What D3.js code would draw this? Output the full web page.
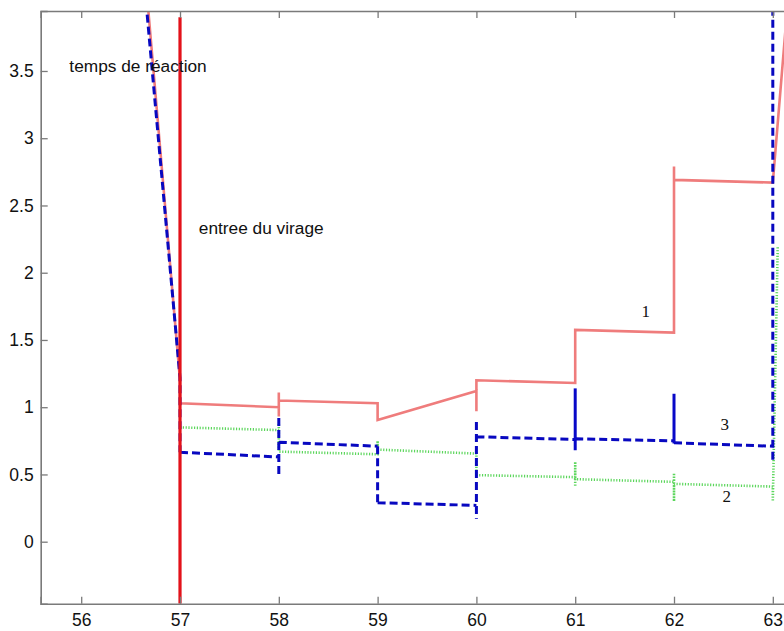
<!DOCTYPE html>
<html><head><meta charset="utf-8">
<script src="https://cdn.jsdelivr.net/npm/d3@7"></script>
<style>
html,body{margin:0;padding:0;background:#fff;}
svg{display:block;}
</style></head>
<body>
<svg id="chart" width="784" height="631"></svg>
<script>
// ---- data ----
const xTicks = [56, 57, 58, 59, 60, 61, 62, 63];
const yTicks = [0, 0.5, 1, 1.5, 2, 2.5, 3, 3.5];
const yTickLabels = ["0", "0.5", "1", "1.5", "2", "2.5", "3", "3.5"];

// series 1 (salmon, solid)
const s1x = [56.6, 57, 57, 58, 58, 58, 58, 59, 59, 60, 60, 60, 61, 61, 62, 62, 62, 63, 63.15];
const s1y = [4.63, 1.20, 1.03, 1.00, 1.11, 0.93, 1.05, 1.03, 0.905, 1.12, 0.97, 1.20, 1.18, 1.575, 1.555, 2.79, 2.69, 2.67, 4.0];

// series 3 (blue, dashed) — NaN separates pieces
const s3x = [56.58, 57, 57, NaN, 57, 58, NaN, 58, 58, NaN, 58, 59, NaN, 59, 59, NaN, 59, 60, NaN, 60, 60, NaN, 60, 61, NaN, 61, 62, NaN, 62, 63, NaN, 63, 63];
const s3y = [4.63, 1.22, 0.665, NaN, 0.665, 0.63, NaN, 0.92, 0.48, NaN, 0.74, 0.71, NaN, 0.71, 0.29, NaN, 0.29, 0.27, NaN, 0.89, 0.17, NaN, 0.78, 0.76, NaN, 0.765, 0.75, NaN, 0.735, 0.71, NaN, 0.61, 4.2];
// series 3 solid spikes
const s3spikeX = [61, 62];
const s3spikeTop = [1.14, 1.10];
const s3spikeBot = [0.68, 0.73];

// series 2 (green, dotted)
const s2x = [57, 58, 58, 58, 59, 59, 59, 60, 60, 61, 61, 61, 61, 62, 62, 62, 62, 63, 63, 63.05];
const s2y = [0.85, 0.83, 0.88, 0.67, 0.65, 0.75, 0.685, 0.655, 0.495, 0.48, 0.595, 0.41, 0.465, 0.445, 0.51, 0.30, 0.43, 0.41, 0.30, 2.2];

// event line
const eventX = 57;
const eventTop = 3.90;

const annotations = [
  {text: "temps de réaction", x: 55.88, y: 3.495, serif: false},
  {text: "entree du virage", x: 57.19, y: 2.287, serif: false},
  {text: "1", x: 61.67, y: 1.67, serif: true},
  {text: "3", x: 62.47, y: 0.83, serif: true},
  {text: "2", x: 62.49, y: 0.294, serif: true}
];

// ---- layout ----
const mLeft = 40.7, mTop = 11, mBottom = 603.7;
const pxPerX = 98.8;
const xDom = [55.59, 63.25];
const x = d3.scaleLinear().domain(xDom).range([mLeft, mLeft + (xDom[1]-xDom[0])*pxPerX]);
const y = d3.scaleLinear().domain([-0.461, 3.946]).range([mBottom, mTop]);

const svg = d3.select("#chart");
const axisColor = "#7a7a7a";

svg.append("defs").append("clipPath").attr("id","clip")
  .append("rect").attr("x", mLeft).attr("y", mTop).attr("width", 784-mLeft).attr("height", mBottom-mTop);

const plot = svg.append("g").attr("clip-path","url(#clip)");

const line = d3.line().defined(d => !isNaN(d[1])).x(d => x(d[0])).y(d => y(d[1]));

// series 2 green dotted
plot.append("path").datum(s2x.map((v,i)=>[v, s2y[i]]))
  .attr("d", line).attr("fill","none").attr("stroke","#3fcf3f")
  .attr("stroke-width", 2.6).attr("stroke-dasharray","1.2,1.6").attr("opacity",0.85);

// series 1 salmon
plot.append("path").datum(s1x.map((v,i)=>[v, s1y[i]]))
  .attr("d", line).attr("fill","none").attr("stroke","#ef7c7c")
  .attr("stroke-width", 2.6).attr("stroke-linejoin","miter");

// series 3 blue dashed
plot.append("path").datum(s3x.map((v,i)=>[v, s3y[i]]))
  .attr("d", line).attr("fill","none").attr("stroke","#0808c0")
  .attr("stroke-width", 3).attr("stroke-dasharray","8,4");

plot.selectAll(".spike").data(s3spikeX).enter().append("line")
  .attr("x1", d => x(d)).attr("x2", d => x(d))
  .attr("y1", (d,i) => y(s3spikeTop[i])).attr("y2", (d,i) => y(s3spikeBot[i]))
  .attr("stroke","#0808c8").attr("stroke-width", 3);

// red event line
plot.append("line").attr("x1", x(eventX)).attr("x2", x(eventX))
  .attr("y1", y(eventTop)).attr("y2", mBottom)
  .attr("stroke","#e3121a").attr("stroke-width", 3.2);

// ---- axes ----
const xAxisB = d3.axisBottom(x).tickValues(xTicks).tickSize(-7).tickPadding(10).tickFormat(d3.format("d"));
const gx = svg.append("g").attr("transform", `translate(0,${mBottom})`).call(xAxisB);
const xAxisT = d3.axisTop(x).tickValues(xTicks).tickSize(-7).tickFormat("");
const gxt = svg.append("g").attr("transform", `translate(0,${mTop})`).call(xAxisT);
const yAxis = d3.axisLeft(y).tickValues(yTicks).tickSize(-7).tickPadding(6).tickFormat((d,i) => yTickLabels[i]);
const gy = svg.append("g").attr("transform", `translate(${mLeft},0)`).call(yAxis);

[gx, gxt, gy].forEach(g => {
  g.select(".domain").attr("stroke", axisColor).attr("stroke-width", 1.6);
  g.selectAll(".tick line").attr("stroke", axisColor).attr("stroke-width", 1.3);
  g.selectAll(".tick text").attr("fill","#111").attr("font-family","'Liberation Sans', Arial, sans-serif").attr("font-size", 17.5);
});
gy.selectAll(".tick text").attr("dx", "-1");

// ---- annotations ----
svg.selectAll(".ann").data(annotations).enter().append("text")
  .attr("x", d => x(d.x)).attr("y", d => y(d.y))
  .attr("font-family", d => d.serif ? "'Liberation Serif', 'Times New Roman', serif" : "'Liberation Sans', Arial, sans-serif")
  .attr("font-size", d => d.serif ? 17 : 17.3)
  .attr("fill","#111")
  .text(d => d.text);
</script>
</body></html>
